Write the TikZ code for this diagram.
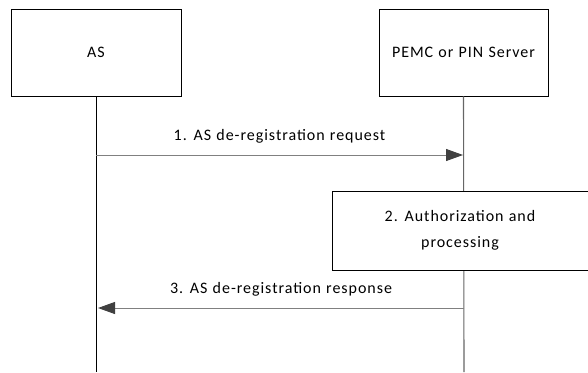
\documentclass[tikz,border=0pt]{standalone}
\usepackage{fontspec}
\setmainfont[LetterSpace=6, WordSpace=1.15]{Carlito}
\usetikzlibrary{arrows.meta}
\tikzset{
  entity/.style={draw=black, line width=0.8pt, fill=white, minimum width=170pt, minimum height=87pt, inner sep=0pt},
  procbox/.style={draw=black, line width=0.8pt, fill=white, minimum width=256pt, minimum height=79pt, align=center, inner sep=0pt},
  lifeline/.style={line width=0.9pt},
  msg/.style={draw=gray, line width=1pt, -{Triangle[length=17pt, width=12pt, fill=black!75, color=black!75]}},
  msglabel/.style={font=\fontsize{16pt}{26pt}\selectfont}
}
\begin{document}
\begin{tikzpicture}[x=1pt, y=1pt, font=\fontsize{16pt}{26pt}\selectfont]
  \useasboundingbox (0,0) rectangle (588,-372);

  % 1. 参与者与生命线
  \node[entity] (as) at (96,-52.5) {AS};
  \node[entity, minimum width=169pt] (pin) at (463.5,-52.5) {PEMC or PIN Server};
  \coordinate (asend) at (96,-372);
  \coordinate (pinend) at (464,-372);
  \draw[lifeline] (as.south) -- (asend);
  \draw[lifeline, black!60, line width=1.1pt] (pin.south) -- (pinend);

  % 2. 处理框（盖住生命线）
  \node[procbox] (auth) at (460,-230.5) {2. Authorization and\\processing};

  % 3. 消息
  \coordinate (req1) at (96,-155);
  \coordinate (req2) at (463,-155);
  \draw[msg] (req1) -- node[msglabel, above=8pt] {1. AS de-registration request} (req2);
  \coordinate (rsp1) at (464,-308);
  \coordinate (rsp2) at (98,-308);
  \draw[msg] (rsp1) -- node[msglabel, above=8pt] {3. AS de-registration response} (rsp2);
\end{tikzpicture}
\end{document}
